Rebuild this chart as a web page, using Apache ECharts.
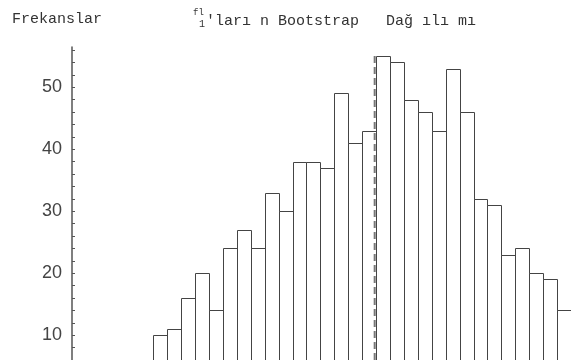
<html>
<head>
    <meta charset="utf-8">
</head>
<body style="margin:0">
    <script src="https://cdn.jsdelivr.net/npm/echarts@6/dist/echarts.min.js"></script>

    <div id="main" style="width: 571px;height: 360px"></div>

    <script>
// bootstrap frequencies per bin (bins are numbered from 0)
var bins = [0, 1, 2, 3, 4, 5, 6, 7, 8, 9, 10, 11, 12, 13, 14, 15,
            16, 17, 18, 19, 20, 21, 22, 23, 24, 25, 26, 27, 28, 29];
var freqs = [10, 11, 16, 20, 14, 24, 27, 24, 33, 30, 38, 38, 37, 49, 41, 43,
             55, 54, 48, 46, 43, 53, 46, 32, 31, 23, 24, 20, 19, 14];
// position of the estimate (dashed line), in bin units
var estimate = 15.9;
var yMin = 6, yMax = 56.5;

var myChart = echarts.init(document.getElementById('main'));

var monoFont = '"Liberation Mono", monospace';
var titleStyle = { fontFamily: monoFont, fontSize: 15, fontWeight: 'normal', color: '#333' };

option = {
    animation: false,
    backgroundColor: '#fff',
    title: [
        { text: 'Frekanslar', left: 12, top: 12, padding: 0, textStyle: titleStyle },
        {
            text: 'fl', left: 193, top: 8, padding: 0,
            textStyle: { fontFamily: monoFont, fontSize: 9, fontWeight: 'normal', color: '#333' }
        },
        {
            text: '1', left: 199, top: 19, padding: 0,
            textStyle: { fontFamily: monoFont, fontSize: 10, fontWeight: 'normal', color: '#333' }
        },
        { text: "'ları n Bootstrap   Dağ ılı mı", left: 206, top: 14, padding: 0, textStyle: titleStyle }
    ],
    grid: {
        left: 153.3,
        top: 47,
        width: 419,
        height: 313
    },
    xAxis: {
        type: 'value',
        min: 0,
        max: bins.length,
        show: false
    },
    yAxis: {
        type: 'value',
        min: yMin,
        max: yMax,
        interval: 2,
        offset: 81.3,
        splitLine: { show: false },
        axisLine: { show: true, onZero: false, lineStyle: { color: '#555', width: 1.5 } },
        axisTick: { inside: true, length: 3, lineStyle: { color: '#555' } },
        axisLabel: {
            margin: 10,
            showMaxLabel: false,
            fontFamily: '"Liberation Sans", Arial, sans-serif',
            fontSize: 18,
            color: '#444',
            formatter: function (v) {
                return v % 10 === 0 ? String(v) : '';
            }
        }
    },
    series: [
        {
            type: 'custom',
            data: bins.map(function (b, i) { return [b, freqs[i]]; }),
            renderItem: function (params, api) {
                var i = api.value(0);
                var p0 = api.coord([i, api.value(1)]);
                var p1 = api.coord([i + 1, yMin]);
                return {
                    type: 'rect',
                    shape: {
                        x: Math.round(p0[0]) + 0.5,
                        y: Math.round(p0[1]) + 0.5,
                        width: Math.round(p1[0]) - Math.round(p0[0]),
                        height: p1[1] - p0[1] + 5
                    },
                    style: { fill: '#fff', stroke: '#444', lineWidth: 1 }
                };
            }
        },
        {
            type: 'line',
            data: [[estimate, yMin], [estimate, 55.5]],
            symbol: 'none',
            z: 5,
            lineStyle: { color: '#777', width: 2, type: [7, 4] }
        }
    ]
};

myChart.setOption(option);
    </script>
</body>
</html>
